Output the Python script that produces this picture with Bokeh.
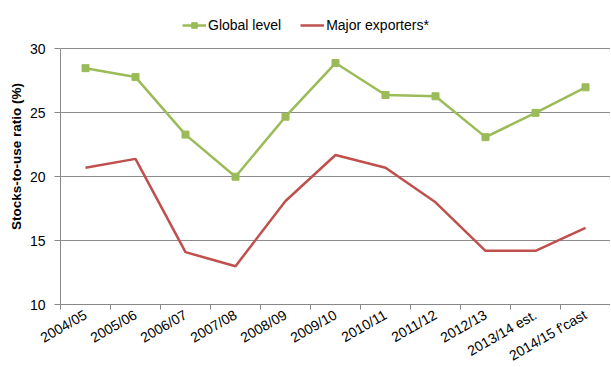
import math
from bokeh.plotting import figure
from bokeh.models import FixedTicker, Legend, LegendItem, Range1d, ColumnDataSource
from bokeh.embed import file_html
from bokeh.resources import INLINE

categories = ["2004/05", "2005/06", "2006/07", "2007/08", "2008/09", "2009/10",
              "2010/11", "2011/12", "2012/13", "2013/14 est.", "2014/15 f'cast"]
global_level = [28.5, 27.8, 23.3, 20.0, 24.7, 28.9, 26.4, 26.3, 23.1, 25.0, 27.0]
major_exporters = [20.7, 21.4, 14.1, 13.0, 18.1, 21.7, 20.7, 18.0, 14.2, 14.2, 16.0]
y_ticks = [10, 15, 20, 25, 30]

FONT = "Liberation Sans"
GREEN = "#9BBB59"
RED = "#C0504D"

xs = [i + 0.5 for i in range(len(categories))]
src = ColumnDataSource(dict(x=xs, g=global_level, m=major_exporters))

p = figure(frame_width=550, frame_height=296, output_backend="svg", toolbar_location=None,
           x_range=Range1d(0, len(categories)), y_range=Range1d(10, 33.17),
           min_border_left=60, min_border_right=0, min_border_top=8, min_border_bottom=0)
p.outline_line_color = None
p.background_fill_color = "white"

r_g = p.line("x", "g", source=src, line_color=GREEN, line_width=2.5)
r_gm = p.scatter("x", "g", source=src, marker="square", size=7, fill_color=GREEN, line_color=GREEN)
r_m = p.line("x", "m", source=src, line_color=RED, line_width=2.5)

# axes
p.xaxis.ticker = FixedTicker(ticks=xs, minor_ticks=list(range(len(categories) + 1)))
p.xaxis.major_label_overrides = {x: c for x, c in zip(xs, categories)}
p.xaxis.major_tick_out = 0
p.xaxis.major_tick_in = 0
p.xaxis.minor_tick_out = 5
p.xaxis.minor_tick_in = 0
p.xaxis.minor_tick_line_color = "#888888"
p.xaxis.major_label_orientation = 0.52
p.xaxis.major_label_standoff = 4

p.yaxis.ticker = FixedTicker(ticks=y_ticks)
p.yaxis.bounds = (10, 30)
p.yaxis.major_tick_out = 6
p.yaxis.major_tick_in = 0
p.yaxis.minor_tick_line_color = None
p.yaxis.major_label_standoff = 9
p.yaxis.axis_label = "Stocks-to-use ratio (%)"
p.yaxis.axis_label_text_font_style = "bold"
p.yaxis.axis_label_text_font_size = "13.5px"
p.yaxis.axis_label_standoff = 3

for ax in (p.xaxis, p.yaxis):
    ax.axis_line_color = "#888888"
    ax.major_tick_line_color = "#888888"
    ax.major_label_text_font = FONT
    ax.major_label_text_font_size = "14px"
    ax.major_label_text_color = "#000000"
    ax.axis_label_text_font = FONT
    ax.axis_label_text_color = "#000000"

p.xgrid.grid_line_color = None
p.ygrid.ticker = FixedTicker(ticks=y_ticks)
p.ygrid.grid_line_color = "#8c8c8c"
p.ygrid.grid_line_width = 1

legend = Legend(items=[LegendItem(label="Global level", renderers=[r_g, r_gm]),
                       LegendItem(label="Major exporters*", renderers=[r_m])],
                orientation="horizontal", location=(122, 271),
                border_line_color=None, background_fill_alpha=0,
                label_text_font=FONT, label_text_font_size="14px",
                label_text_color="#000000",
                glyph_width=24, glyph_height=14, label_standoff=2, spacing=19,
                padding=0, margin=0)
p.add_layout(legend)

open("out.html", "w").write(file_html(p, INLINE))
